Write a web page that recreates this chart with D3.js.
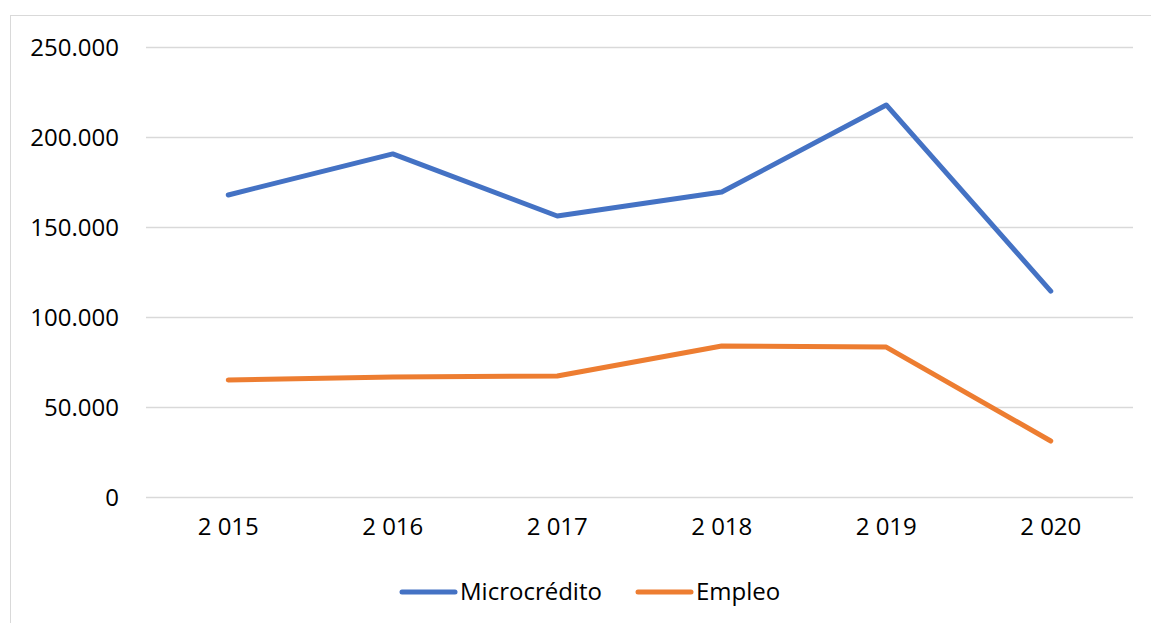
<!DOCTYPE html>
<html>
<head>
<meta charset="utf-8">
<script src="https://cdn.jsdelivr.net/npm/d3@7"></script>
<style>
  body { margin: 0; background: #fff; }
  svg { display: block; font-family: "Open Sans", "Noto Sans", sans-serif; }
</style>
</head>
<body>
<div id="chart"></div>
<script>
// Data
const years = ['2 015', '2 016', '2 017', '2 018', '2 019', '2 020'];
const microcredito = [167800, 190600, 156100, 169400, 217800, 114400];
const empleo = [65000, 66700, 67200, 83900, 83300, 31100];
const yTicks = [0, 50000, 100000, 150000, 200000, 250000];

const series = [
    { name: 'Microcrédito', values: microcredito, color: '#4472C4' },
    { name: 'Empleo', values: empleo, color: '#ED7D31' }
];

const W = 1151, H = 623;
const svg = d3.select('#chart').append('svg')
    .attr('width', W)
    .attr('height', H);

// chart frame (runs off right/bottom edge like the cropped original)
svg.append('rect')
    .attr('x', 10.5).attr('y', 15.5)
    .attr('width', W + 20).attr('height', H + 20)
    .attr('fill', 'none')
    .attr('stroke', '#d9d9d9')
    .attr('stroke-width', 1);

const plot = { left: 146, right: 1133, top: 47, bottom: 497 };

const x = d3.scaleBand()
    .domain(years)
    .range([plot.left, plot.right]);

const y = d3.scaleLinear()
    .domain([0, 250000])
    .range([plot.bottom, plot.top]);

const fmt = v => v === 0 ? '0' : d3.format(',')(v).replace(/,/g, '.');
const fontSize = '24px';

// gridlines
svg.append('g')
    .selectAll('line')
    .data(yTicks)
    .join('line')
    .attr('x1', plot.left).attr('x2', plot.right)
    .attr('y1', d => Math.round(y(d)) + 0.5)
    .attr('y2', d => Math.round(y(d)) + 0.5)
    .attr('stroke', '#d9d9d9')
    .attr('stroke-width', 1.5);

// y axis labels
const yAxis = svg.append('g')
    .attr('transform', `translate(${plot.left - 27},0)`)
    .call(d3.axisLeft(y).tickValues(yTicks).tickFormat(fmt).tickSize(0).tickPadding(0));
yAxis.select('.domain').remove();
yAxis.selectAll('text')
    .attr('font-size', fontSize)
    .attr('font-family', '"Open Sans", sans-serif')
    .attr('fill', '#000')
    .attr('dy', '0.35em');

// x axis labels
const xAxis = svg.append('g')
    .attr('transform', `translate(0,${plot.bottom + 21})`)
    .call(d3.axisBottom(x).tickSize(0).tickPadding(0));
xAxis.select('.domain').remove();
xAxis.selectAll('text')
    .attr('font-size', fontSize)
    .attr('font-family', '"Open Sans", sans-serif')
    .attr('fill', '#000')
    .attr('dy', '0.7em');

// lines
const line = d3.line()
    .x((d, i) => x(years[i]) + x.bandwidth() / 2)
    .y(d => y(d));

svg.append('g')
    .selectAll('path')
    .data(series)
    .join('path')
    .attr('d', d => line(d.values))
    .attr('fill', 'none')
    .attr('stroke', d => d.color)
    .attr('stroke-width', 5)
    .attr('stroke-linecap', 'round')
    .attr('stroke-linejoin', 'round');

// legend
const legendY = 592;
const legendItems = [
    { x: 402, textX: 460 },
    { x: 638, textX: 696 }
];
series.forEach((s, i) => {
    const pos = legendItems[i];
    svg.append('line')
        .attr('x1', pos.x).attr('x2', pos.x + 53)
        .attr('y1', legendY).attr('y2', legendY)
        .attr('stroke', s.color)
        .attr('stroke-width', 5)
        .attr('stroke-linecap', 'round');
    svg.append('text')
        .attr('x', pos.textX)
        .attr('y', legendY)
        .attr('dy', '0.35em')
        .attr('font-size', fontSize)
        .attr('font-family', '"Open Sans", sans-serif')
        .attr('fill', '#000')
        .text(s.name);
});
</script>
</body>
</html>
